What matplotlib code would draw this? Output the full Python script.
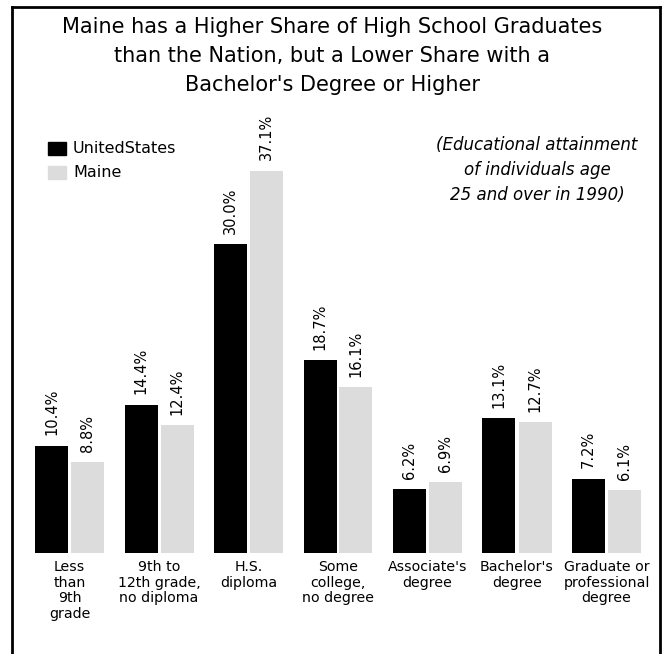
import numpy as np
import matplotlib
matplotlib.use("Agg")
import matplotlib.pyplot as plt
from matplotlib.patches import Rectangle

# data
categories = ["Less\nthan\n9th\ngrade", "9th to\n12th grade,\nno diploma", "H.S.\ndiploma",
              "Some\ncollege,\nno degree", "Associate's\ndegree", "Bachelor's\ndegree",
              "Graduate or\nprofessional\ndegree"]
us_values = [10.4, 14.4, 30.0, 18.7, 6.2, 13.1, 7.2]
maine_values = [8.8, 12.4, 37.1, 16.1, 6.9, 12.7, 6.1]
series_names = ["UnitedStates", "Maine"]

W, H = 665, 654
fig = plt.figure(figsize=(W / 100, H / 100), dpi=100)

def fx(px):
    return px / W

def fy(py):
    return 1 - py / H

# frame around the whole figure (no bottom edge)
fig.add_artist(plt.Line2D([fx(12), fx(12)], [fy(7), 0], color="black", lw=2))
fig.add_artist(plt.Line2D([fx(660), fx(660)], [fy(7), 0], color="black", lw=2))
fig.add_artist(plt.Line2D([fx(12), fx(660)], [fy(7), fy(7)], color="black", lw=2))

# axes placed so group spacing ~89.5 px and baseline at y=553 px
left_px, right_px, top_px, base_px = 20, 655, 130, 553
ax = fig.add_axes([fx(left_px), fy(base_px), fx(right_px - left_px), (base_px - top_px) / H])
spacing = 89.5
ax.set_xlim((left_px - 69.5) / spacing, (right_px - 69.5) / spacing)
ax.set_ylim(0, (base_px - top_px) / 10.3)
ax.axis("off")

x = np.arange(len(categories))
bw = 33 / spacing
off = 18 / spacing
b1 = ax.bar(x - off, us_values, bw, color="black", label=series_names[0])
b2 = ax.bar(x + off, maine_values, bw, color="#dcdcdc", label=series_names[1])

for bars, vals in ((b1, us_values), (b2, maine_values)):
    for rect, v in zip(bars, vals):
        ax.annotate("%.1f%%" % v, (rect.get_x() + rect.get_width() / 2, v),
                    xytext=(0, 7.5), textcoords="offset points", rotation=90,
                    ha="center", va="bottom", fontsize=10.5)

for xi, cat in zip(x, categories):
    ax.annotate(cat, (xi, 0), xytext=(0, -5), textcoords="offset points",
                ha="center", va="top", fontsize=10.2, linespacing=1.15)

fig.text(0.5, fy(17), "Maine has a Higher Share of High School Graduates\n"
         "than the Nation, but a Lower Share with a\nBachelor's Degree or Higher",
         ha="center", va="top", fontsize=15, linespacing=1.55)

# legend drawn by hand
fig.patches.append(Rectangle((fx(48), fy(155)), fx(18), 13 / H, color="black", transform=fig.transFigure))
fig.patches.append(Rectangle((fx(48), fy(179)), fx(18), 13 / H, color="#dcdcdc", transform=fig.transFigure))
fig.text(fx(73), fy(148), series_names[0], va="center", fontsize=11.5)
fig.text(fx(73), fy(172), series_names[1], va="center", fontsize=11.5)

fig.text(fx(537), fy(170), "(Educational attainment\nof individuals age\n25 and over in 1990)",
         ha="center", va="center", fontsize=12, style="italic", linespacing=1.5)

fig.savefig("out.png", dpi=100)
